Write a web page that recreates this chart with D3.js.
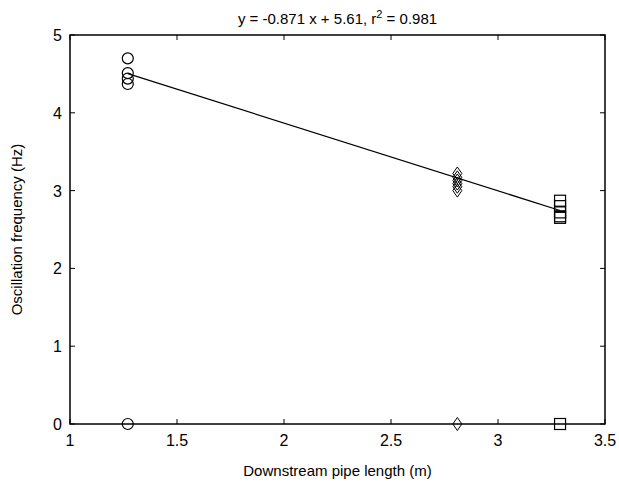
<!DOCTYPE html>
<html>
<head>
<meta charset="utf-8">
<script src="https://cdn.jsdelivr.net/npm/d3@7"></script>
<style>
  body { margin: 0; background: #fff; }
  text { font-family: "Liberation Sans", Arial, sans-serif; fill: #000; }
</style>
</head>
<body>
<div id="chart"></div>
<script>
// pipe lengths (m) and measured frequencies (Hz)
var circleX = 1.27, circleY = [4.70, 4.51, 4.44, 4.37, 0];
var diamondX = 2.81, diamondY = [3.22, 3.17, 3.13, 3.09, 3.05, 3.00, 0];
var squareX = 3.29, squareY = [2.87, 2.80, 2.72, 2.67, 2.65, 0];
var fitSlope = -0.871, fitIntercept = 5.61;
var xTicks = [1, 1.5, 2, 2.5, 3, 3.5];
var yTicks = [0, 1, 2, 3, 4, 5];

var W = 619, H = 492;
var m = {left: 70, right: 14, top: 35, bottom: 68};

var svg = d3.select('#chart').append('svg')
  .attr('width', W).attr('height', H);

var x = d3.scaleLinear().domain([1, 3.5]).range([m.left, W - m.right]);
var y = d3.scaleLinear().domain([0, 5]).range([H - m.bottom, m.top]);

var g = svg.append('g');

// box
g.append('rect')
  .attr('x', x(1)).attr('y', y(5))
  .attr('width', x(3.5) - x(1)).attr('height', y(0) - y(5))
  .attr('fill', 'none').attr('stroke', '#000').attr('stroke-width', 1.5);

// inner ticks, all four sides
xTicks.forEach(function(t) {
  g.append('line').attr('x1', x(t)).attr('x2', x(t))
    .attr('y1', y(0)).attr('y2', y(0) - 5).attr('stroke', '#000');
  g.append('line').attr('x1', x(t)).attr('x2', x(t))
    .attr('y1', y(5)).attr('y2', y(5) + 5).attr('stroke', '#000');
  g.append('text').attr('x', x(t)).attr('y', y(0) + 22)
    .attr('text-anchor', 'middle').style('font-size', '16px').text(t);
});
yTicks.forEach(function(t) {
  g.append('line').attr('x1', x(1)).attr('x2', x(1) + 5)
    .attr('y1', y(t)).attr('y2', y(t)).attr('stroke', '#000');
  g.append('line').attr('x1', x(3.5)).attr('x2', x(3.5) - 5)
    .attr('y1', y(t)).attr('y2', y(t)).attr('stroke', '#000');
  g.append('text').attr('x', x(1) - 8).attr('y', y(t) + 6)
    .attr('text-anchor', 'end').style('font-size', '16px').text(t);
});

// fit line
var fitX = [circleX, squareX];
g.append('line')
  .attr('x1', x(fitX[0])).attr('y1', y(fitSlope * fitX[0] + fitIntercept))
  .attr('x2', x(fitX[1])).attr('y2', y(fitSlope * fitX[1] + fitIntercept))
  .attr('stroke', '#000').attr('stroke-width', 1.2);

// markers
g.selectAll('.c').data(circleY).enter().append('circle')
  .attr('cx', x(circleX)).attr('cy', function(d) { return y(d); })
  .attr('r', 5.5).attr('fill', 'none').attr('stroke', '#000').attr('stroke-width', 1.2);

g.selectAll('.d').data(diamondY).enter().append('path')
  .attr('d', function(d) {
    var cx = x(diamondX), cy = y(d);
    return 'M' + cx + ',' + (cy - 6.5) + 'L' + (cx + 4.5) + ',' + cy +
      'L' + cx + ',' + (cy + 6.5) + 'L' + (cx - 4.5) + ',' + cy + 'Z';
  })
  .attr('fill', 'none').attr('stroke', '#000').attr('stroke-width', 1);

g.selectAll('.s').data(squareY).enter().append('rect')
  .attr('x', x(squareX) - 5.5).attr('y', function(d) { return y(d) - 5.5; })
  .attr('width', 11).attr('height', 11)
  .attr('fill', 'none').attr('stroke', '#000').attr('stroke-width', 1.2);

// labels
var title = svg.append('text').attr('x', (x(1) + x(3.5)) / 2).attr('y', 24)
  .attr('text-anchor', 'middle').style('font-size', '15px');
title.append('tspan').text('y = -0.871 x + 5.61, r');
title.append('tspan').attr('dy', -6).style('font-size', '11px').text('2');
title.append('tspan').attr('dy', 6).text(' = 0.981');

svg.append('text').attr('x', (x(1) + x(3.5)) / 2).attr('y', 476)
  .attr('text-anchor', 'middle').style('font-size', '15px')
  .text('Downstream pipe length (m)');

svg.append('text')
  .attr('transform', 'translate(22,' + ((y(0) + y(5)) / 2) + ') rotate(-90)')
  .attr('text-anchor', 'middle').style('font-size', '15px')
  .text('Oscillation frequency (Hz)');
</script>
</body>
</html>
